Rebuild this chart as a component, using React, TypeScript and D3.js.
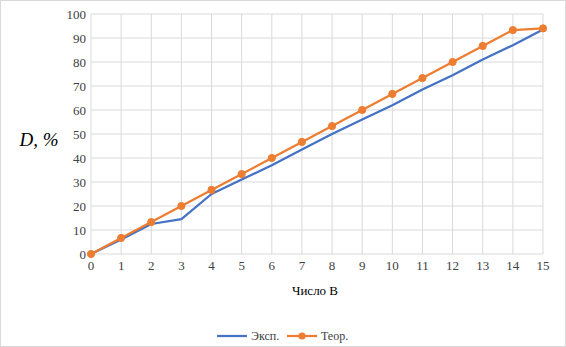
import React from "react";
import * as d3 from "d3";

const categories = [0, 1, 2, 3, 4, 5, 6, 7, 8, 9, 10, 11, 12, 13, 14, 15];
const expValues = [0, 6, 12.5, 14.5, 25, 31, 37, 43.5, 50, 56, 62, 68.5, 74.5, 81, 87, 93.5];
const teorValues = [0, 6.7, 13.3, 20, 26.7, 33.3, 40, 46.7, 53.3, 60, 66.7, 73.3, 80, 86.7, 93.3, 94];
const yTicks = [0, 10, 20, 30, 40, 50, 60, 70, 80, 90, 100];
const seriesNames = ["Эксп.", "Теор."];

const W = 566;
const H = 347;
const BLUE = "#4472C4";
const ORANGE = "#ED7D31";
const GRID = "#d9d9d9";
const FONT = "Liberation Serif, Times New Roman, serif";

export default function App() {
  const x = d3.scaleLinear().domain([0, 15]).range([91, 543]);
  const y = d3.scaleLinear().domain([0, 100]).range([254, 14]);
  const line = d3
    .line<number>()
    .x((_, i) => x(categories[i]))
    .y((d) => y(d));

  const tStyle = { fontFamily: FONT };

  return (
    <svg
      width={W}
      height={H}
      style={{ position: "absolute", left: 0, top: 0, background: "#fff", fontFamily: FONT }}
    >
      <rect x={0.5} y={0.5} width={W - 1} height={H - 1} fill="#fff" stroke={GRID} />
      {yTicks.map((t) => (
        <g key={"y" + t}>
          <line x1={x(0)} x2={x(15)} y1={y(t)} y2={y(t)} stroke={GRID} strokeWidth={1} />
          <text x={86} y={y(t)} dy="0.35em" textAnchor="end" style={tStyle} fontSize={13} fill="#404040">
            {t}
          </text>
        </g>
      ))}
      {categories.map((c) => (
        <g key={"x" + c}>
          <line x1={x(c)} x2={x(c)} y1={y(0)} y2={y(100)} stroke={GRID} strokeWidth={1} />
          <text x={x(c)} y={270} textAnchor="middle" style={tStyle} fontSize={13} fill="#404040">
            {c}
          </text>
        </g>
      ))}
      <path d={line(expValues) || ""} fill="none" stroke={BLUE} strokeWidth={2.25} strokeLinejoin="round" />
      <path d={line(teorValues) || ""} fill="none" stroke={ORANGE} strokeWidth={2.25} strokeLinejoin="round" />
      {teorValues.map((v, i) => (
        <circle key={"m" + i} cx={x(categories[i])} cy={y(v)} r={3.6} fill={ORANGE} stroke={ORANGE} />
      ))}
      <text x={39} y={146} textAnchor="middle" style={tStyle} fontStyle="italic" fontSize={19} fill="#000">
        D, %
      </text>
      <text x={315} y={295} textAnchor="middle" style={tStyle} fontSize={13} fill="#000">
        Число В
      </text>
      <g>
        <line x1={217} x2={247} y1={336} y2={336} stroke={BLUE} strokeWidth={2.25} />
        <text x={251} y={336} dy="0.35em" style={tStyle} fontSize={12} fill="#404040">
          {seriesNames[0]}
        </text>
        <line x1={287} x2={317} y1={336} y2={336} stroke={ORANGE} strokeWidth={2.25} />
        <circle cx={302} cy={336} r={3.6} fill={ORANGE} />
        <text x={321} y={336} dy="0.35em" style={tStyle} fontSize={12} fill="#404040">
          {seriesNames[1]}
        </text>
      </g>
    </svg>
  );
}
